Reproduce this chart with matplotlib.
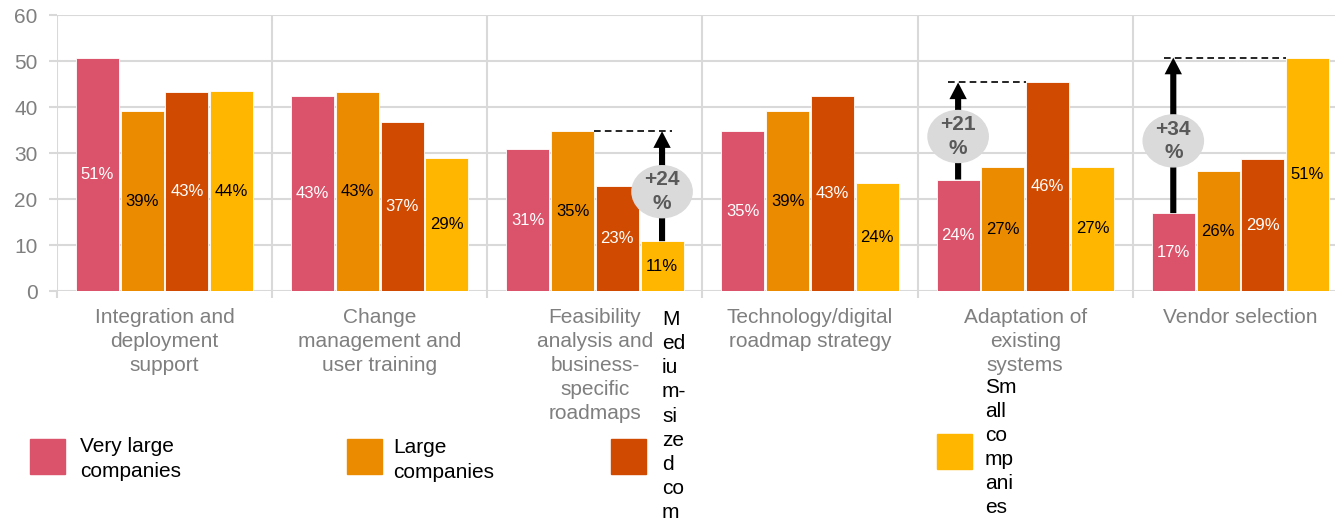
import matplotlib
matplotlib.use("Agg")
import matplotlib.pyplot as plt
from matplotlib.patches import Ellipse, FancyArrowPatch, Rectangle
import numpy as np

plt.rcParams['font.family'] = ['Liberation Sans', 'DejaVu Sans']

categories = [
    "Integration and\ndeployment\nsupport",
    "Change\nmanagement and\nuser training",
    "Feasibility\nanalysis and\nbusiness-\nspecific\nroadmaps",
    "Technology/digital\nroadmap strategy",
    "Adaptation of\nexisting\nsystems",
    "Vendor selection",
]
series_names = ["Very large companies", "Large companies",
                "Medium-sized companies", "Small companies"]
legend_texts = ["Very large\ncompanies", "Large\ncompanies",
                "M\ned\niu\nm-\nsi\nze\nd\nco\nm",
                "Sm\nall\nco\nmp\nani\nes"]

very_large = [50.8, 42.4, 30.9, 34.8, 24.3, 17.0]
large      = [39.2, 43.3, 34.8, 39.2, 27.0, 26.1]
medium     = [43.3, 36.8, 22.9, 42.4, 45.4, 28.8]
small      = [43.5, 29.0, 10.9, 23.5, 27.1, 50.8]

labels_very_large = ["51%", "43%", "31%", "35%", "24%", "17%"]
labels_large      = ["39%", "43%", "35%", "39%", "27%", "26%"]
labels_medium     = ["43%", "37%", "23%", "43%", "46%", "29%"]
labels_small      = ["44%", "29%", "11%", "24%", "27%", "51%"]

# annotations: (category index, arrow series, target series, text)
ann_category = [2, 4, 5]
ann_from_series = [3, 0, 0]
ann_to_series = [1, 2, 3]
ann_text = ["+24\n%", "+21\n%", "+34\n%"]

colors = ["#DB536A", "#EB8C00", "#D04A02", "#FFB600"]
label_colors = ["white", "black", "white", "black"]
grid_c = "#D9D9D9"

values = [very_large, large, medium, small]
labels = [labels_very_large, labels_large, labels_medium, labels_small]

W, H = 1335, 529
fig = plt.figure(figsize=(W / 100, H / 100), dpi=100)
ax = fig.add_axes([57 / W, (H - 291.3) / H, 1291 / W, 276 / H])

x = np.arange(len(categories))
step = 0.208
bw = 0.2
for j in range(4):
    xs = x + (j - 1.5) * step
    ax.bar(xs, values[j], width=bw, color=colors[j],
           edgecolor="white", linewidth=0.6, zorder=3)
    for xi, v, lab in zip(xs, values[j], labels[j]):
        ax.text(xi, v / 2, lab, ha="center", va="center",
                color=label_colors[j], fontsize=12, zorder=5)

ax.set_xlim(-0.5, len(categories) - 0.5)
ax.set_ylim(0, 60)
ax.set_yticks(range(0, 61, 10))
ax.set_xticks(x)
ax.set_xticklabels(categories, fontsize=15, color="#7F7F7F", linespacing=1.34)
ax.set_xticks(np.arange(-0.5, len(categories), 1.0), minor=True)
ax.tick_params(axis="x", which="major", length=0, pad=12)
ax.tick_params(axis="x", which="minor", length=5, color=grid_c, width=1.5)
ax.tick_params(axis="y", length=6, color=grid_c, width=1.5,
               labelsize=15, labelcolor="#7F7F7F", pad=8)
ax.grid(axis="y", color=grid_c, lw=1.5, zorder=0)
ax.grid(axis="x", which="minor", color=grid_c, lw=1.5, zorder=0)
for s in ax.spines.values():
    s.set_visible(False)

# annotations
hw = 0.045
for ci, fs, ts, txt in zip(ann_category, ann_from_series, ann_to_series, ann_text):
    ax_x = ci + (fs - 1.5) * step
    y0 = values[fs][ci]
    y1 = values[ts][ci]
    arr = FancyArrowPatch((ax_x, y0), (ax_x, y1),
                          arrowstyle="simple,head_length=12,head_width=12.5,tail_width=4.4",
                          mutation_scale=1, color="black", lw=0,
                          shrinkA=0, shrinkB=0, zorder=6)
    ax.add_patch(arr)
    tx = ci + (ts - 1.5) * step
    if tx < ax_x:
        xa, xb = tx + bw / 2, ax_x + hw
    else:
        xa, xb = ax_x - hw, tx - bw / 2
    ax.plot([xa, xb], [y1, y1], color="black", lw=1.2,
            dashes=(4, 2.5), zorder=6, solid_capstyle="butt")
    yc = (y0 + y1) / 2 - 1.2
    ax.add_patch(Ellipse((ax_x, yc), 0.28, 11.3, color="#DADADA", zorder=7))
    ax.text(ax_x, yc, txt, ha="center", va="center", fontsize=15,
            fontweight="bold", color="#595959", linespacing=1.3, zorder=8)

# legend (manual)
leg_sq_x = [30, 347, 611, 937]
leg_sq_y = [456, 456, 456, 451]
leg_tx_x = [80, 393, 662, 985]
leg_tx_y = [459, 460, 416, 447.5]
for k in range(4):
    cx, cy = leg_sq_x[k], leg_sq_y[k]
    fig.patches.append(Rectangle((cx / W, (H - cy - 17.5) / H), 35 / W, 35 / H,
                                 transform=fig.transFigure, color=colors[k]))
    fig.text(leg_tx_x[k] / W, (H - leg_tx_y[k]) / H, legend_texts[k], ha="left",
             va="center", fontsize=15, color="black", linespacing=1.34)

fig.savefig("out.png", dpi=100)
